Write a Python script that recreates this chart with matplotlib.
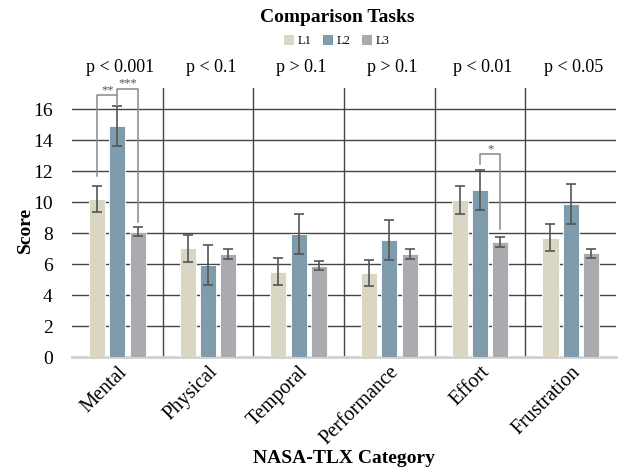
import numpy as np
import matplotlib
matplotlib.use('Agg')
import matplotlib.pyplot as plt
from matplotlib.patches import Patch

plt.rcParams['font.family'] = ['Liberation Serif', 'DejaVu Serif']

# NASA-TLX scores per category and level
categories = ['Mental', 'Physical', 'Temporal', 'Performance', 'Effort', 'Frustration']
levels = ['L1', 'L2', 'L3']
l1_mean = [10.2, 7.03, 5.52, 5.44, 10.15, 7.7]
l2_mean = [14.92, 5.93, 7.95, 7.57, 10.77, 9.89]
l3_mean = [8.1, 6.66, 5.91, 6.66, 7.44, 6.7]
l1_err = [0.86, 0.87, 0.87, 0.86, 0.88, 0.87]
l2_err = [1.3, 1.29, 1.3, 1.3, 1.29, 1.3]
l3_err = [0.31, 0.31, 0.32, 0.32, 0.34, 0.31]
p_labels = ['p < 0.001', 'p < 0.1', 'p > 0.1', 'p > 0.1', 'p < 0.01', 'p < 0.05']

colors = ['#D9D7C4', '#7F9CAD', '#ABABAF']

fig = plt.figure(figsize=(6.18, 4.70), dpi=100)
ax = fig.add_axes([0.1165, 0.2404, 0.8805, 0.573])

x = np.arange(len(categories))
offset = 0.224
width = 0.178
means = [l1_mean, l2_mean, l3_mean]
errs = [l1_err, l2_err, l3_err]
for i, (m, e) in enumerate(zip(means, errs)):
    ax.bar(x + (i - 1) * offset, m, width, color=colors[i], edgecolor='white',
           linewidth=0.6, zorder=3)
    ax.errorbar(x + (i - 1) * offset, m, yerr=e, fmt='none', ecolor='#555555',
                elinewidth=1.2, capsize=3.5, capthick=1.2, zorder=4)

ax.set_xlim(-0.5, len(categories) - 0.5)
ax.set_ylim(0, 17.4)
ax.set_yticks(range(0, 17, 2))
ax.tick_params(axis='y', length=0, labelsize=14, pad=14)
ax.tick_params(axis='x', length=0, labelsize=14.5, pad=4)
ax.set_xticks(x)
ax.set_xticklabels(categories, rotation=45, ha='right', va='top',
                   rotation_mode='anchor')

# horizontal grid and group separators
for yv in range(2, 17, 2):
    ax.axhline(yv, color='#444444', linewidth=1.0, zorder=1)
for xv in x[:-1] + 0.5:
    ax.axvline(xv, color='#444444', linewidth=1.0, zorder=1)

for s in ['top', 'right', 'left']:
    ax.spines[s].set_visible(False)
ax.spines['bottom'].set_color('#D0D0D0')
ax.spines['bottom'].set_linewidth(2)

ax.set_ylabel('Score', fontsize=14, fontweight='bold', labelpad=4)
ax.yaxis.set_label_coords(-0.07, 0.47)
ax.set_xlabel('NASA-TLX Category', fontsize=14, fontweight='bold', labelpad=1)

# p-values over each group
for xi, p in zip(x, p_labels):
    ax.text(xi + 0.03, 1.075, p, transform=ax.get_xaxis_transform(), ha='center',
            va='center', fontsize=13, clip_on=False)

# significance brackets
def bracket(x0, x1, y, y0, y1, label, ly):
    ax.plot([x0, x0, x1, x1], [y0, y, y, y1], color='#888888', linewidth=1.1,
            zorder=5, clip_on=False)
    ax.text((x0 + x1) / 2, ly, label, ha='center', va='center', fontsize=9,
            color='#555555', clip_on=False)

bracket(x[0] - offset, x[0], 16.9, 11.7, 16.35, '**', 17.25)
bracket(x[0], x[0] + offset, 17.3, 16.9, 8.75, '***', 17.7)
bracket(x[4], x[4] + offset, 13.1, 12.45, 8.25, '*', 13.4)

fig.suptitle('Comparison Tasks', x=0.545, y=0.98, fontsize=14, fontweight='bold')
handles = [Patch(facecolor=c, edgecolor='none') for c in colors]
fig.legend(handles, levels, loc='center', bbox_to_anchor=(0.545, 0.912), ncol=3,
           frameon=False, fontsize=9, handlelength=0.8, handleheight=0.8,
           handletextpad=0.3, columnspacing=0.9)

fig.savefig('out.png', dpi=100)
